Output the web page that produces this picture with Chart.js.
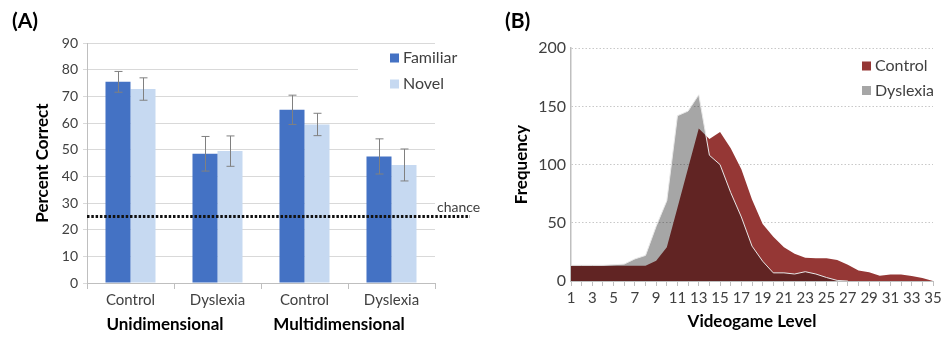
<!DOCTYPE html>
<html>
<head>
<meta charset="utf-8">
<script src="https://cdn.jsdelivr.net/npm/chart.js@4.4.0/dist/chart.umd.min.js"></script>
<style>
  html, body { margin: 0; padding: 0; background: #fff; }
  #wrap { position: relative; width: 946px; height: 337px; overflow: hidden; }
  .panel { position: absolute; top: 0; }
  #panelA { left: 0; }
  #panelB { left: 490px; }
</style>
</head>
<body>
<div id="wrap">
  <div class="panel" id="panelA"><canvas id="chartA" width="490" height="337"></canvas></div>
  <div class="panel" id="panelB"><canvas id="chartB" width="456" height="337"></canvas></div>
</div>
<script>
// ---- Panel A: percent correct ----
const groupsA = ['Control', 'Dyslexia', 'Control', 'Dyslexia'];
const conditionsA = ['Unidimensional', 'Multidimensional'];
const familiar = [75.5, 48.5, 65.0, 47.5];
const familiarErr = [3.9, 6.5, 5.5, 6.6];
const novel = [72.8, 49.5, 59.5, 44.3];
const novelErr = [4.2, 5.7, 4.2, 6.0];
const chanceLevel = 25;

// ---- Panel B: frequency by videogame level ----
const levels = ['1','2','3','4','5','6','7','8','9','10','11','12','13','14','15','16','17','18',
                '19','20','21','22','23','24','25','26','27','28','29','30','31','32','33','34','35'];
const controlFreq = [13, 13, 13, 13, 13, 13, 13, 13, 17.5, 29, 63, 97, 131, 122, 128, 114, 96, 70,
                     49, 38, 29, 23.5, 20, 19.5, 19.5, 18, 14, 9, 7.5, 4.5, 5.5, 5.5, 4.3, 2.5, 0];
const dyslexiaFreq = [13.5, 13.5, 13.5, 13.5, 14, 14.5, 19, 22, 47, 69, 142, 146, 160, 108, 100, 76, 55, 30,
                      17, 7, 7, 6, 8, 6, 3, 0.5, 0, 0, 0, 0, 0, 0, 0, 0, 0];

Chart.defaults.font.family = 'Lato, "DejaVu Sans", sans-serif';
Chart.defaults.animation = false;

// legend: square marker + label, drawn inside the plot
const boxLegend = {
  id: 'boxLegend',
  afterDraw(chart, args, opts) {
    const ctx = chart.ctx;
    ctx.save();
    if (opts.bg) {
      ctx.fillStyle = '#fff';
      ctx.fillRect(opts.bg[0], opts.bg[1], opts.bg[2], opts.bg[3]);
    }
    ctx.font = opts.fontSize + 'px ' + Chart.defaults.font.family;
    ctx.textBaseline = 'middle';
    chart.data.datasets.forEach((ds, i) => {
      const cy = opts.y + i * opts.step;
      ctx.fillStyle = ds.backgroundColor;
      ctx.fillRect(opts.x, cy - opts.size / 2, opts.size, opts.size);
      ctx.fillStyle = '#404040';
      ctx.fillText(ds.label, opts.x + opts.size + opts.gap, cy);
    });
    ctx.restore();
  }
};

const errorBars = {
  id: 'errorBars',
  afterDatasetsDraw(chart) {
    const ctx = chart.ctx, y = chart.scales.y;
    ctx.save();
    ctx.strokeStyle = '#808080';
    ctx.lineWidth = 1;
    chart.data.datasets.forEach((ds, i) => {
      chart.getDatasetMeta(i).data.forEach((bar, j) => {
        const top = y.getPixelForValue(ds.data[j] + ds.errors[j]);
        const bot = y.getPixelForValue(ds.data[j] - ds.errors[j]);
        const x = Math.round(bar.x) + 0.5;
        ctx.beginPath();
        ctx.moveTo(x, top); ctx.lineTo(x, bot);
        ctx.moveTo(x - 4, top); ctx.lineTo(x + 4, top);
        ctx.moveTo(x - 4, bot); ctx.lineTo(x + 4, bot);
        ctx.stroke();
      });
    });
    ctx.restore();
  }
};

const chanceLine = {
  id: 'chanceLine',
  afterDatasetsDraw(chart) {
    const ctx = chart.ctx, area = chart.chartArea;
    const yy = chart.scales.y.getPixelForValue(chanceLevel);
    ctx.save();
    ctx.setLineDash([2.5, 1.8]);
    ctx.lineWidth = 3;
    ctx.strokeStyle = '#111';
    ctx.beginPath();
    ctx.moveTo(area.left, yy);
    ctx.lineTo(chart.width - 20, yy);
    ctx.stroke();
    ctx.setLineDash([]);
    ctx.fillStyle = '#404040';
    ctx.font = '14px ' + Chart.defaults.font.family;
    ctx.textBaseline = 'alphabetic';
    ctx.fillText('chance', area.right + 2, yy - 4);
    ctx.restore();
  }
};

// dyslexia area is multiplied over control so the overlap turns dark
const overlapBlend = {
  id: 'overlapBlend',
  afterDatasetDraw(chart, args) {
    if (chart.data.datasets[args.index].label === 'Control') chart.ctx.globalCompositeOperation = 'multiply';
  },
  beforeDatasetDraw(chart, args) {
    if (chart.data.datasets[args.index].label === 'Dyslexia') chart.ctx.globalCompositeOperation = 'source-over';
  }
};

new Chart(document.getElementById('chartA'), {
  type: 'bar',
  data: {
    labels: groupsA,
    datasets: [
      { label: 'Familiar', data: familiar, errors: familiarErr, backgroundColor: '#4472C4',
        categoryPercentage: 0.575, barPercentage: 1 },
      { label: 'Novel', data: novel, errors: novelErr, backgroundColor: '#C6D9F1',
        categoryPercentage: 0.575, barPercentage: 1 }
    ]
  },
  options: {
    responsive: false,
    events: [],
    layout: { padding: { left: 12, right: 55, top: 0, bottom: 0 } },
    plugins: {
      legend: { display: false },
      tooltip: { enabled: false },
      title: { display: true, text: '(A)', align: 'start', color: '#000',
               font: { size: 21, weight: 'bold' }, padding: { top: 9, bottom: 9 } },
      boxLegend: { x: 390, y: 58, step: 26, size: 9, gap: 4, fontSize: 16, bg: [358, 47, 82, 53] }
    },
    scales: {
      x: {
        grid: { offset: true, drawOnChartArea: false, tickLength: 6, color: '#bfbfbf' },
        border: { color: '#bfbfbf' },
        ticks: { color: '#404040', font: { size: 15 }, padding: 2 },
        afterFit: s => { s.height = 28; }
      },
      x2: {
        type: 'category', labels: conditionsA, position: 'bottom', offset: true,
        grid: { display: false }, border: { display: false },
        ticks: { color: '#000', font: { size: 17, weight: 'bold' }, padding: -5, labelOffset: -9 },
        afterFit: s => { s.height = 26; }
      },
      y: {
        min: 0, max: 90,
        ticks: { stepSize: 10, color: '#404040', font: { size: 14 }, padding: 5 },
        grid: { color: '#d9d9d9', tickLength: 4 },
        border: { color: '#bfbfbf' },
        title: { display: true, text: 'Percent Correct', color: '#000',
                 font: { size: 17, weight: 'bold' }, padding: { top: 20, bottom: 0 } },
        afterFit: s => { s.width = 75; }
      }
    }
  },
  plugins: [errorBars, chanceLine, boxLegend]
});

new Chart(document.getElementById('chartB'), {
  type: 'line',
  data: {
    labels: levels,
    datasets: [
      { label: 'Control', data: controlFreq, backgroundColor: '#953735', borderColor: 'rgba(0,0,0,0)',
        borderWidth: 0, fill: 'origin', pointRadius: 0, tension: 0, order: 1 },
      { label: 'Dyslexia', data: dyslexiaFreq, backgroundColor: '#A6A6A6', borderColor: '#E8E8E8',
        borderWidth: 1, fill: 'origin', pointRadius: 0, tension: 0, order: 0,
        segment: { borderColor: c => (c.p0.parsed.y === 0 && c.p1.parsed.y === 0) ? 'rgba(0,0,0,0)' : undefined } }
    ]
  },
  options: {
    responsive: false,
    events: [],
    layout: { padding: { left: 15, right: 13, top: 0, bottom: 0 } },
    plugins: {
      legend: { display: false },
      tooltip: { enabled: false },
      title: { display: true, text: '(B)', align: 'start', color: '#000',
               font: { size: 21, weight: 'bold' }, padding: { top: 9, bottom: 14 } },
      boxLegend: { x: 372, y: 66, step: 24.5, size: 9, gap: 4, fontSize: 16 }
    },
    scales: {
      x: {
        offset: false,
        grid: { drawOnChartArea: false, tickLength: 5, color: '#bfbfbf' },
        border: { color: '#bfbfbf' },
        ticks: { autoSkip: false, maxRotation: 0, color: '#404040', font: { size: 15 }, padding: 3,
                 callback: (v, i) => (i % 2 === 0 ? levels[i] : '') },
        title: { display: true, text: 'Videogame Level', color: '#000',
                 font: { size: 17, weight: 'bold' }, padding: { top: 0, bottom: 5 } },
        afterFit: s => { s.height = 56; }
      },
      y: {
        min: 0, max: 200,
        ticks: { stepSize: 50, color: '#404040', font: { size: 16 }, padding: 5 },
        grid: { color: '#c8c8c8', drawTicks: false },
        border: { color: '#bfbfbf', width: 1.5, dash: [1.5, 2] },
        title: { display: true, text: 'Frequency', color: '#000',
                 font: { size: 17, weight: 'bold' }, padding: { top: 6, bottom: 0 } },
        afterFit: s => { s.width = 66; }
      }
    }
  },
  plugins: [overlapBlend, boxLegend]
});
</script>
</body>
</html>
